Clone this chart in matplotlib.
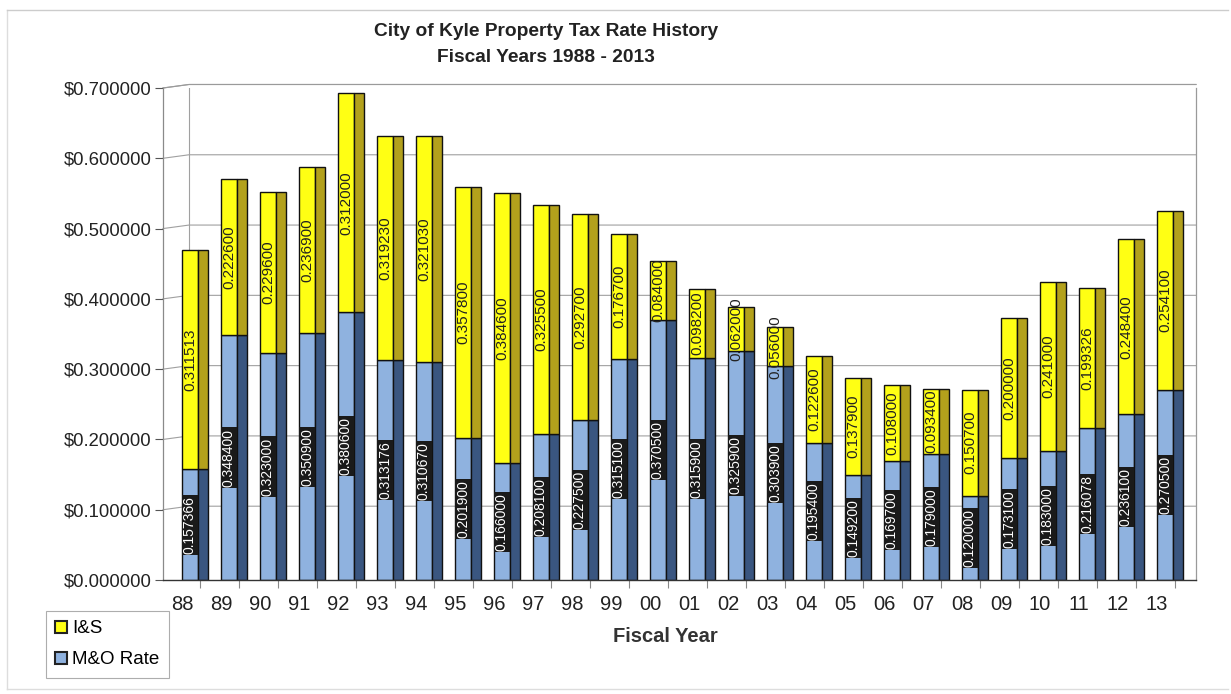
import matplotlib
matplotlib.use("Agg")
import matplotlib.pyplot as plt
from matplotlib.patches import Patch
from matplotlib.lines import Line2D

plt.rcParams['font.family'] = ['Liberation Sans', 'DejaVu Sans']

years = ["88", "89", "90", "91", "92", "93", "94", "95", "96", "97", "98", "99", "00",
         "01", "02", "03", "04", "05", "06", "07", "08", "09", "10", "11", "12", "13"]
mo_rate = [0.157366, 0.348400, 0.323000, 0.350900, 0.380600, 0.313176, 0.310670,
           0.201900, 0.166000, 0.208100, 0.227500, 0.315100, 0.370500, 0.315900,
           0.325900, 0.303900, 0.195400, 0.149200, 0.169700, 0.179000, 0.120000,
           0.173100, 0.183000, 0.216078, 0.236100, 0.270500]
is_rate = [0.311513, 0.222600, 0.229600, 0.236900, 0.312000, 0.319230, 0.321030,
           0.357800, 0.384600, 0.325500, 0.292700, 0.176700, 0.084000, 0.098200,
           0.062000, 0.056000, 0.122600, 0.137900, 0.108000, 0.093400, 0.150700,
           0.200000, 0.241000, 0.199326, 0.248400, 0.254100]
yticks = [0.0, 0.1, 0.2, 0.3, 0.4, 0.5, 0.6, 0.7]

W, H = 1231, 694
fig = plt.figure(figsize=(W / 100, H / 100), dpi=100)

# axes placed in pixel coordinates
ax_l, ax_r, ax_t, ax_b = 163, 1196, 88, 580
ax = fig.add_axes([ax_l / W, 1 - ax_b / H, (ax_r - ax_l) / W, (ax_b - ax_t) / H])
px_per_cat = 39.0
xmin = -(200 - ax_l) / px_per_cat
xmax = xmin + (ax_r - ax_l) / px_per_cat
ax.set_xlim(xmin, xmax)
ax.set_ylim(0, 0.7)

x = list(range(len(years)))
front_off = -18 / px_per_cat
front_w = 16 / px_per_cat
side_off = -2 / px_per_cat
side_w = 10 / px_per_cat

# back wall gridlines (slanted into depth)
back_x = xmin + 26 / px_per_cat
shift = 0.005
for v in yticks[1:]:
    ax.plot([xmin, back_x, xmax], [v, v + shift, v + shift], color='#a0a0a0', lw=0.8, zorder=0.5,
            clip_on=False)
ax.plot([back_x, back_x], [0.0, 0.7 + shift], color='#a0a0a0', lw=0.8, zorder=0.5)

yellow_f, yellow_s = '#FFFF14', '#B3A11C'
blue_f, blue_s = '#8FB2DF', '#3A5680'

xf = [i + front_off for i in x]
xs = [i + side_off for i in x]
ax.bar(xf, mo_rate, width=front_w, align='edge', color=blue_f, edgecolor='#111111', lw=1.0, zorder=2)
ax.bar(xs, mo_rate, width=side_w, align='edge', color=blue_s, edgecolor='#111111', lw=1.0, zorder=2)
ax.bar(xf, is_rate, bottom=mo_rate, width=front_w, align='edge', color=yellow_f,
       edgecolor='#111111', lw=1.0, zorder=2)
ax.bar(xs, is_rate, bottom=mo_rate, width=side_w, align='edge', color=yellow_s,
       edgecolor='#111111', lw=1.0, zorder=2)

# value labels
for i, (m, s) in enumerate(zip(mo_rate, is_rate)):
    cx = i + front_off + front_w / 2
    ax.text(cx, m / 2, f"{m:.6f}", rotation=90, ha='center', va='center', fontsize=10,
            color='white', zorder=4,
            bbox=dict(boxstyle='square,pad=0.08', facecolor='#1a1a1a', edgecolor='none'))
    ax.text(cx, m + s / 2, f"{s:.6f}", rotation=90, ha='center', va='center', fontsize=11,
            color='#222222', zorder=4)

# spines
ax.spines['top'].set_visible(False)
ax.spines['left'].set_color('#8a8a8a')
ax.spines['right'].set_color('#9a9a9a')
ax.spines['bottom'].set_color('#333333')
ax.spines['left'].set_linewidth(0.9)
ax.spines['right'].set_linewidth(0.9)
ax.spines['bottom'].set_linewidth(1.0)
ax.plot([xmin, back_x, xmax], [0.7, 0.7 + shift, 0.7 + shift], color='#9a9a9a', lw=0.8,
        zorder=0.5, clip_on=False)

# y ticks
ax.set_yticks(yticks)
ax.set_yticklabels([f"${v:.6f}" for v in yticks], fontsize=13.3, color='#222222')
ax.tick_params(axis='y', length=6, width=0.8, color='#555555', pad=2)

# x ticks: marks at category boundaries, labels shifted left
ax.set_xticks(x)
ax.set_xticklabels([])
ax.tick_params(axis='x', which='major', length=6, width=0.8, color='#888888', direction='out')
ax.set_xticks([i - 18 / px_per_cat for i in x], minor=True)
ax.set_xticklabels(years, minor=True, fontsize=14.5, color='#222222')
ax.tick_params(axis='x', which='minor', length=0, pad=11)

# titles
fig.text(546 / W, 1 - 31 / H, "City of Kyle Property Tax Rate History", ha='center', va='center',
         fontsize=13.8, fontweight='bold', color='#222222')
fig.text(546 / W, 1 - 57 / H, "Fiscal Years 1988 - 2013", ha='center', va='center',
         fontsize=13.8, fontweight='bold', color='#222222')
fig.text(665 / W, 1 - 637 / H, "Fiscal Year", ha='center', va='center',
         fontsize=14.5, fontweight='bold', color='#333333')

# legend
handles = [Patch(facecolor=yellow_f, edgecolor='#222222', lw=1.5, label='I&S'),
           Patch(facecolor=blue_f, edgecolor='#222222', lw=1.5, label='M&O Rate')]
leg = fig.legend(handles=handles, loc='upper left', bbox_to_anchor=(46 / W, 1 - 611 / H),
                 fontsize=13.5, frameon=True, fancybox=False, handlelength=0.6, handleheight=0.6,
                 handletextpad=0.3, borderpad=0.5, labelspacing=0.75, borderaxespad=0)
leg.get_frame().set_edgecolor('#999999')
leg.get_frame().set_linewidth(0.8)

# outer chart border
fig.add_artist(Line2D([7 / W, 7 / W], [1 - 10 / H, 1 - 689 / H], color='#dddddd', lw=1.0))
fig.add_artist(Line2D([7 / W, 1228 / W], [1 - 10 / H, 1 - 10 / H], color='#cccccc', lw=1.0))
fig.add_artist(Line2D([7 / W, 1228 / W], [1 - 689 / H, 1 - 689 / H], color='#dddddd', lw=1.0))

fig.savefig("out.png", dpi=100)
